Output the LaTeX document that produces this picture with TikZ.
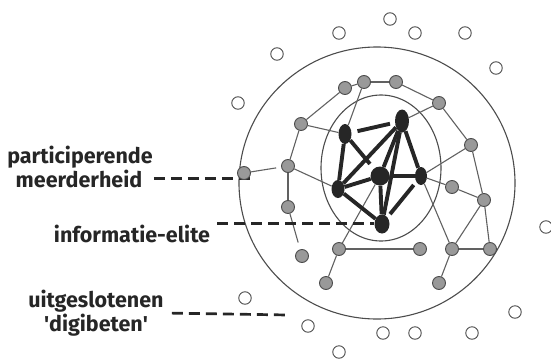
\documentclass[tikz,border=0pt]{standalone}
\usepackage{fontspec}
\setmainfont{Fira Sans}
\usetikzlibrary{positioning,calc,shapes.geometric,backgrounds}
\definecolor{ink}{gray}{0.15}
\definecolor{ring}{gray}{0.3}
\definecolor{link}{gray}{0.38}
\definecolor{dot}{gray}{0.6}

\begin{document}
\begin{tikzpicture}[
  x=1pt, y=-1pt,
  every node/.style={font=\fontsize{21.5}{24}\selectfont\bfseries, text=ink},
  outsider/.style={circle, draw=ring, line width=0.9pt, fill=white,
                   minimum size=12.5pt, inner sep=0pt},
  member/.style={circle, draw=ring, line width=0.9pt, fill=dot,
                 minimum size=13pt, inner sep=0pt},
  elite/.style={ellipse, fill=ink, inner sep=0pt},
  link/.style={draw=link, line width=1.1pt},
  tie/.style={draw=ink, line width=3.9pt},
  leader/.style={draw=ink, line width=2.7pt, dash pattern=on 11pt off 6pt}
]
  \useasboundingbox (0,0) rectangle (551,359);

  % labels
  \node[anchor=base] (part) at (80,163) {participerende};
  \node[anchor=base] (meer) at (79,187) {meerderheid};
  \node[anchor=base, inner sep=1pt] (info) at (132,242) {informatie-elite};
  \node[align=center, inner sep=0pt] (uit) at (96,313)
    {uitgeslotenen\\\textquotesingle digibeten\textquotesingle};

  % elite
  \foreach \n/\x/\y/\w/\h in {1/345/134/13pt/20pt, 2/402/121/14pt/23pt,
      3/380/176/19pt/19pt, 4/421/176/12pt/18pt, 5/338/189/13pt/18pt,
      6/382/224/15pt/19pt}
    \node[elite, minimum width=\w, minimum height=\h] (e\n) at (\x,\y) {};

  % participerende meerderheid
  \foreach \n/\x/\y in {1/345/88, 2/364/82, 3/396/82, 4/439/103, 5/301/124,
      6/471/145, 7/288/166, 8/244/173, 9/288/207, 10/302/256, 11/339/249,
      12/326/283, 13/420/249, 14/452/187, 15/484/200, 16/452/249,
      17/490/249, 18/439/283}
    \node[member] (m\n) at (\x,\y) {};

  % digibeten
  \foreach \n/\x/\y in {1/238/103, 2/277/54, 3/339/33, 4/390/19, 5/415/33,
      6/465/33, 7/496/68, 8/546/227, 9/515/312, 10/245/298, 11/308/326,
      12/383/333, 13/415/333, 14/472/333, 15/339/352}
    \node[outsider] (d\n) at (\x,\y) {};

  \coordinate (uitend) at (288,315);

  \begin{scope}[on background layer]
    \draw[ring, line width=1.1pt] (377,183) ellipse [x radius=138, y radius=136];
    \draw[ring, line width=1.1pt] (381,168) ellipse [x radius=60, y radius=73];
    % thin links
    \foreach \u/\v in {m1/m5, m1/m2, m2/m3, m2/e1, m3/m4, m4/e2, m4/m6,
        m5/e1, m5/m7, m7/e5, m7/m9, m6/e4, m6/m15, e4/m14, m14/m15,
        m15/m16, m15/m17, m16/m17, m16/m18, e4/m16, m11/m13, m11/m12,
        m11/e3}
      \draw[link] (\u) -- (\v);
    \draw[link, shorten >=5pt] (m8) -- (m7);
    \draw[link, shorten >=7pt] (m9) -- (m10);
    % thick ties
    \foreach \u/\v in {e1/e5, e2/e5, e2/e4, e2/e3, e2/e6, e3/e5, e3/e4,
        e3/e6, e5/e6}
      \draw[tie] (\u) -- (\v);
    \draw[tie, shorten >=6pt] (e1) -- (e3);
    \draw[tie, shorten <=6pt, shorten >=5pt] (e1) -- (e2);
    \draw[tie, shorten <=4pt, shorten >=4pt] (e4) -- (e6);
    % leaders
    \draw[leader, shorten <=8pt] (meer.east) -- (meer.east -| m8.east);
    \draw[leader, shorten <=6pt] (info.north east) -- (info.north east -| e6.west);
    \draw[leader, shorten <=8pt] (uit.east) -- (uitend);
  \end{scope}
\end{tikzpicture}
\end{document}
